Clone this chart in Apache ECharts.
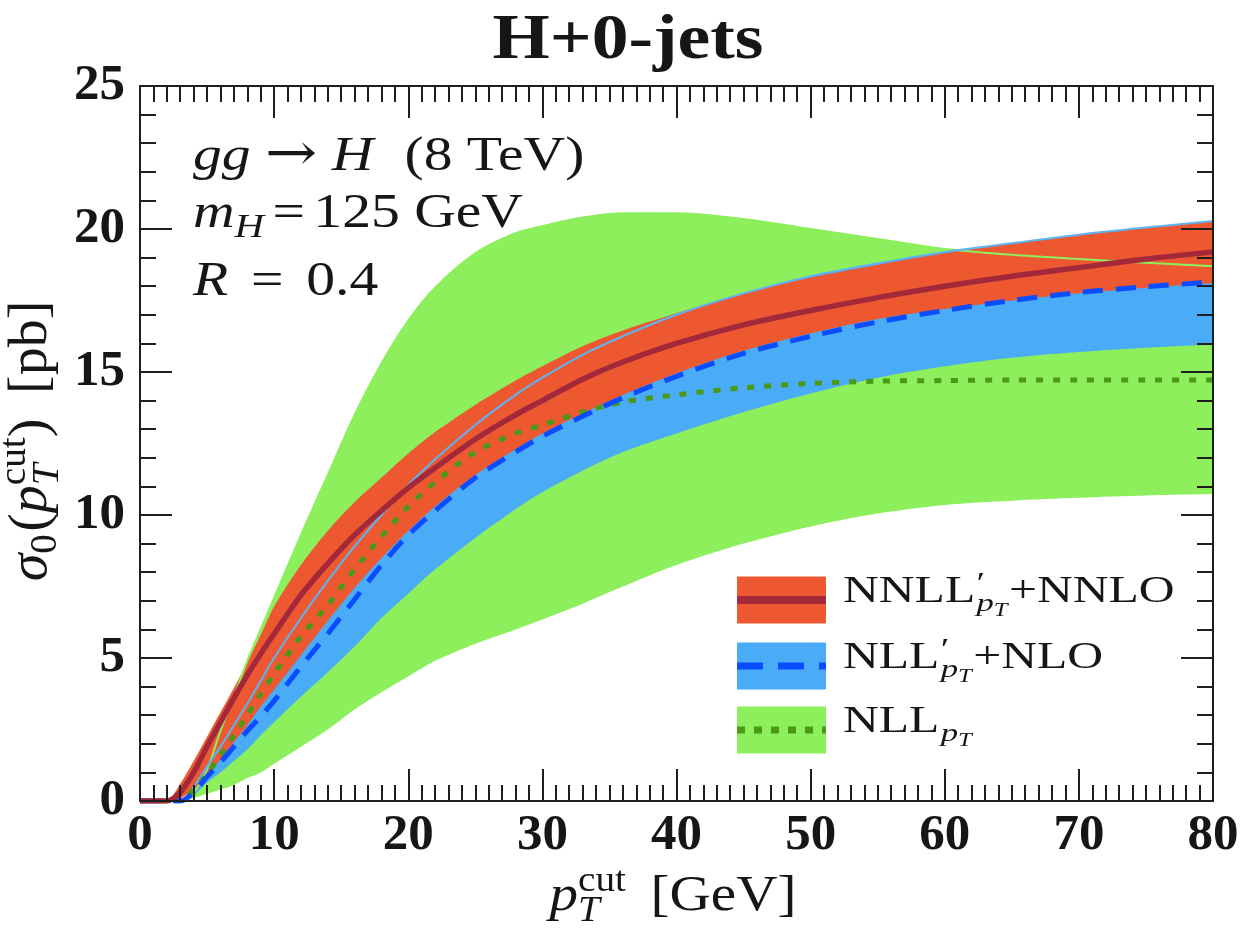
<!DOCTYPE html>
<html>
<head>
<meta charset="utf-8">
<script src="https://cdn.jsdelivr.net/npm/echarts@6/dist/echarts.min.js"></script>
<style>
  html, body { margin: 0; padding: 0; background: #ffffff; }
  #chart { width: 1240px; height: 929px; }
</style>
</head>
<body>
<div id="chart"></div>
<script>
// Jet-veto cut values (GeV) shared by every curve
const ptCut = [0, 2, 3, 4, 5, 6, 7, 8, 9, 10, 12, 14, 16, 18, 20, 22, 25, 28, 30, 33, 36, 40, 45, 50, 55, 60, 65, 70, 75, 80];

// NNLL'_pT + NNLO : central value and uncertainty band (pb)
const nnllCentral = [0, 0, 0.3, 1.0, 1.9, 2.75, 3.6, 4.4, 5.15, 5.85, 7.2, 8.3, 9.3, 10.15, 10.95, 11.65, 12.65, 13.5, 14.0, 14.75, 15.35, 16.0, 16.65, 17.15, 17.6, 18.0, 18.35, 18.65, 18.95, 19.2];
const nnllUpper   = [0, 0, 0.6, 1.4, 2.25, 3.1, 3.95, 4.85, 5.8, 6.8, 8.25, 9.45, 10.45, 11.3, 12.15, 12.9, 13.85, 14.7, 15.2, 15.9, 16.45, 17.05, 17.75, 18.3, 18.75, 19.15, 19.5, 19.8, 20.05, 20.3];
const nnllLower   = [0, 0, 0.1, 0.4, 0.9, 1.45, 2.05, 2.65, 3.3, 3.9, 5.1, 6.3, 7.45, 8.5, 9.45, 10.3, 11.4, 12.3, 12.85, 13.55, 14.2, 14.95, 15.75, 16.35, 16.85, 17.2, 17.5, 17.75, 17.95, 18.1];

// NLL'_pT + NLO
const nllpCentral = [0, 0, 0, 0.3, 0.85, 1.35, 1.9, 2.45, 2.95, 3.5, 4.7, 5.85, 7.05, 8.25, 9.3, 10.15, 11.3, 12.2, 12.75, 13.45, 14.1, 14.85, 15.65, 16.25, 16.75, 17.15, 17.5, 17.78, 17.98, 18.15];
const nllpUpper   = [0, 0, 0, 0.5, 1.2, 1.9, 2.65, 3.4, 4.2, 5.0, 6.4, 7.7, 8.9, 10.0, 11.05, 11.95, 13.15, 14.2, 14.8, 15.6, 16.25, 17.0, 17.75, 18.35, 18.8, 19.2, 19.5, 19.8, 20.05, 20.28];
const nllpLower   = [0, 0, 0, 0.2, 0.65, 1.0, 1.4, 1.8, 2.3, 2.75, 3.65, 4.5, 5.4, 6.4, 7.25, 8.1, 9.2, 10.2, 10.8, 11.55, 12.2, 12.85, 13.6, 14.25, 14.8, 15.2, 15.5, 15.7, 15.85, 15.95];

// NLL_pT
const nllCentral  = [0, 0, 0, 0.4, 0.95, 1.6, 2.3, 3.0, 3.75, 4.45, 5.75, 6.85, 8.1, 9.25, 10.3, 11.15, 12.2, 12.85, 13.15, 13.6, 13.95, 14.2, 14.45, 14.6, 14.68, 14.7, 14.72, 14.72, 14.72, 14.72];
const nllUpper    = [0, 0, 0, 0.3, 1.1, 2.45, 3.65, 4.9, 6.0, 7.1, 9.3, 11.4, 13.5, 15.3, 16.8, 17.95, 19.15, 19.85, 20.1, 20.4, 20.55, 20.55, 20.35, 20.0, 19.65, 19.3, 19.1, 18.95, 18.82, 18.7];
const nllLower    = [0, 0, 0, 0.1, 0.25, 0.4, 0.56, 0.8, 1.0, 1.3, 1.9, 2.5, 3.2, 3.8, 4.35, 4.9, 5.5, 6.0, 6.35, 6.9, 7.5, 8.25, 9.0, 9.6, 10.05, 10.35, 10.5, 10.6, 10.68, 10.73];

// Axis ranges and tick spacing
const xRange = [0, 80], xStep = 10;
const yRange = [0, 25], yStep = 5;

const COLORS = {
  nnllBand: '#ee5831', nnllLine: '#a3293a',
  nllpBand: '#4aabf7', nllpLine: '#0a4cff', nllpEdge: '#5eb3f3',
  nllBand:  '#8cef5b', nllLine:  '#4b9a17',
  ink: '#161616', axis: '#1e1e1e'
};
const SERIF = '"Liberation Serif", "DejaVu Serif", serif';

// ---------- text layout helper (runs along a shared baseline) ----------
const measureCtx = document.createElement('canvas').getContext('2d');
function fontOf(r) {
  return (r.italic ? 'italic ' : 'normal ') + (r.bold ? 'bold ' : 'normal ') + r.size + 'px ' + (r.family || SERIF);
}
// Returns a group whose origin sits on the baseline at (x0, baseline)
function textRow(runs, x0, baseline, anchor, base, opts) {
  opts = opts || {};
  let cursor = 0, lastStart = 0;
  const placed = runs.map(src => {
    const r = Object.assign({ size: base }, src);
    measureCtx.font = fontOf(r);
    const w = measureCtx.measureText(r.t).width;
    const start = r.stack ? lastStart : cursor + (r.kern || 0);
    lastStart = start;
    cursor = Math.max(cursor, start + w);
    return { r, start };
  });
  const shift = anchor === 'center' ? -cursor / 2 : anchor === 'right' ? -cursor : 0;
  return {
    type: 'group', silent: true, z: 30,
    x: x0, y: baseline,
    rotation: opts.rotation || 0,
    scaleX: opts.sx || 1, scaleY: opts.sy || 1,
    children: placed.map(({ r, start }) => ({
      type: 'text', silent: true, z: 30,
      x: shift + start,
      y: -(r.rise || 0) - 0.34 * r.size,
      style: {
        text: r.t, font: fontOf(r), fill: r.color || COLORS.ink,
        align: 'left', verticalAlign: 'middle', textAlign: 'left', textVerticalAlign: 'middle'
      }
    }))
  };
}

// ---------- smoothed band outline (same control-point rule as the line series) ----------
const SMOOTH = 0.3;
function bezierCmds(p) {
  const n = p.length, cpPrev = [], cpNext = [];
  for (let i = 0; i < n; i++) {
    if (i === 0 || i === n - 1) { cpPrev[i] = p[i]; cpNext[i] = p[i]; continue; }
    const vx = p[i + 1][0] - p[i - 1][0], vy = p[i + 1][1] - p[i - 1][1];
    const d0 = Math.hypot(p[i][0] - p[i - 1][0], p[i][1] - p[i - 1][1]);
    const d1 = Math.hypot(p[i + 1][0] - p[i][0], p[i + 1][1] - p[i][1]);
    const rn = d0 + d1 > 0 ? d1 / (d0 + d1) : 0.5;
    cpPrev[i] = [p[i][0] - vx * SMOOTH * (1 - rn), p[i][1] - vy * SMOOTH * (1 - rn)];
    cpNext[i] = [p[i][0] + vx * SMOOTH * rn, p[i][1] + vy * SMOOTH * rn];
  }
  let d = '';
  for (let i = 0; i < n - 1; i++) {
    d += ' C' + cpNext[i][0] + ' ' + cpNext[i][1] + ' ' + cpPrev[i + 1][0] + ' ' + cpPrev[i + 1][1] +
         ' ' + p[i + 1][0] + ' ' + p[i + 1][1];
  }
  return d;
}
function band(name, lower, upper, color) {
  return {
    type: 'custom', name, clip: true, silent: true, z: 2,
    data: ptCut.map((x, i) => [x, lower[i], upper[i]]),
    encode: { x: 0, y: [1, 2] },
    renderItem(params, api) {
      if (params.dataIndex !== 0) return null; // the whole band is one shape
      const up = ptCut.map((x, i) => api.coord([x, upper[i]]));
      const lo = ptCut.map((x, i) => api.coord([x, lower[i]])).reverse();
      const d = 'M' + up[0][0] + ' ' + up[0][1] + bezierCmds(up) +
                ' L' + lo[0][0] + ' ' + lo[0][1] + bezierCmds(lo) + ' Z';
      return { type: 'path', shape: { pathData: d }, style: { fill: color, stroke: null } };
    }
  };
}
const pairs = ys => ptCut.map((x, i) => [x, ys[i]]);
function curve(name, ys, lineStyle, z) {
  return { type: 'line', name, data: pairs(ys), smooth: SMOOTH, symbol: 'none', silent: true, lineStyle, z };
}

// ---------- axes (frame with inward ticks on all four sides) ----------
function axis(range, step, minorSplit, position, label) {
  return {
    type: 'value', min: range[0], max: range[1], interval: step, position, z: 10,
    axisLine: { show: true, onZero: false, lineStyle: { color: COLORS.axis, width: 2 } },
    axisTick: { show: true, inside: true, length: 32, lineStyle: { color: COLORS.axis, width: 2 } },
    minorTick: { show: true, splitNumber: minorSplit, length: 16, lineStyle: { color: COLORS.axis, width: 2 } },
    splitLine: { show: false }, minorSplitLine: { show: false },
    axisLabel: label ? Object.assign({ show: true, showMinLabel: true, showMaxLabel: true,
      fontFamily: SERIF, fontWeight: 'bold', fontSize: 51, color: COLORS.ink }, label) : { show: false }
  };
}
const xAxes = [axis(xRange, xStep, 10, 'bottom', { margin: 9 }), axis(xRange, xStep, 10, 'top', null)];
const yAxes = [axis(yRange, yStep, 5, 'left', { margin: 15 }), axis(yRange, yStep, 5, 'right', null)];

const series = [
  band('NLL_pT band', nllLower, nllUpper, COLORS.nllBand),
  band("NLL'_pT+NLO band", nllpLower, nllpUpper, COLORS.nllpBand),
  band("NNLL'_pT+NNLO band", nnllLower, nnllUpper, COLORS.nnllBand),
  curve('NLL_pT upper edge', nllUpper, { color: COLORS.nllBand, width: 2 }, 3),
  curve("NLL'_pT+NLO upper edge", nllpUpper, { color: COLORS.nllpEdge, width: 2 }, 3),
  curve('NLL_pT', nllCentral, { color: COLORS.nllLine, width: 5, type: [7, 10], cap: 'butt' }, 4),
  curve("NLL'_pT+NLO", nllpCentral, { color: COLORS.nllpLine, width: 5, type: [20, 13], cap: 'butt' }, 5),
  curve("NNLL'_pT+NNLO", nnllCentral, { color: COLORS.nnllLine, width: 5.5 }, 6)
];

// ---------- legend, annotations, title and axis titles ----------
const LS = 37; // legend label size
const legendRows = [
  { cy: 600, fill: COLORS.nnllBand, stroke: COLORS.nnllLine, width: 8, dash: null,
    label: [{ t: 'NNLL' }, { t: '\u2032', size: LS * 0.8, rise: LS * 0.3, kern: 1 },
            { t: 'p', italic: true, size: LS * 0.7, rise: -LS * 0.22, stack: true },
            { t: 'T', italic: true, size: LS * 0.5, rise: -LS * 0.34 }, { t: '+NNLO', kern: 1 }] },
  { cy: 666, fill: COLORS.nllpBand, stroke: COLORS.nllpLine, width: 7, dash: [26, 15],
    label: [{ t: 'NLL' }, { t: '\u2032', size: LS * 0.8, rise: LS * 0.3, kern: 1 },
            { t: 'p', italic: true, size: LS * 0.7, rise: -LS * 0.22, stack: true },
            { t: 'T', italic: true, size: LS * 0.5, rise: -LS * 0.34 }, { t: '+NLO', kern: 1 }] },
  { cy: 730, fill: COLORS.nllBand, stroke: COLORS.nllLine, width: 7, dash: [8, 9],
    label: [{ t: 'NLL' }, { t: 'p', italic: true, size: LS * 0.7, rise: -LS * 0.22, kern: 1 },
            { t: 'T', italic: true, size: LS * 0.5, rise: -LS * 0.34 }] }
];
const legendBox = { x: 737, w: 89, h: 47, textX: 843 };

const graphics = [];
legendRows.forEach(row => {
  graphics.push({ type: 'rect', silent: true, z: 20,
    shape: { x: legendBox.x, y: row.cy - legendBox.h / 2, width: legendBox.w, height: legendBox.h },
    style: { fill: row.fill } });
  graphics.push({ type: 'line', silent: true, z: 21,
    shape: { x1: legendBox.x, y1: row.cy, x2: legendBox.x + legendBox.w, y2: row.cy },
    style: { stroke: row.stroke, lineWidth: row.width, lineDash: row.dash, lineCap: 'butt' } });
  graphics.push(textRow(row.label, legendBox.textX, row.cy + 5, 'left', LS, { sx: 1.34 }));
});

const AS = 48; // annotation size
const ARROW_FONT = '"DejaVu Serif", "DejaVu Sans", serif';
graphics.push(textRow([{ t: 'gg', italic: true }, { t: '\u2192', kern: 12, family: ARROW_FONT, size: 52 },
                       { t: 'H', italic: true, kern: 12 }, { t: '(8 TeV)', kern: 26 }], 193, 174, 'left', AS, { sx: 1.2 }));
graphics.push(textRow([{ t: 'm', italic: true }, { t: 'H', italic: true, size: 34, rise: -9 },
                       { t: '=', kern: 7 }, { t: '125', kern: 7 }, { t: 'GeV', kern: 12 }], 193, 231, 'left', AS, { sx: 1.2 }));
graphics.push(textRow([{ t: 'R', italic: true }, { t: '=', kern: 19 }, { t: '0.4', kern: 19 }], 193, 299, 'left', AS, { sx: 1.2 }));

// title
graphics.push(textRow([{ t: 'H+0-jets', bold: true }], 628, 63, 'center', 64, { sx: 1.15 }));

// x-axis title
graphics.push(textRow([{ t: 'p', italic: true }, { t: 'cut', size: 35, rise: 20 },
                       { t: 'T', italic: true, size: 35, rise: -10, stack: true },
                       { t: '[GeV]', kern: 22 }], 673, 914, 'center', 51, { sx: 1.12 }));

// y-axis title, rotated to read upward
graphics.push(textRow([{ t: '\u03c3', italic: true }, { t: '0', size: 35, rise: -8 },
                       { t: '(', kern: 2 }, { t: 'p', italic: true }, { t: 'cut', size: 35, rise: 20 },
                       { t: 'T', italic: true, size: 35, rise: -10, stack: true },
                       { t: ')' }, { t: '[pb]', kern: 22 }], 50, 441, 'center', 50,
                      { rotation: Math.PI / 2, sx: 1.12, sy: 1.1 }));

const chart = echarts.init(document.getElementById('chart'), null, { renderer: 'canvas' });
chart.setOption({
  animation: false,
  backgroundColor: '#ffffff',
  grid: { left: 140, right: 27, top: 86, bottom: 128, containLabel: false, outerBoundsMode: 'none' },
  xAxis: xAxes,
  yAxis: yAxes,
  series: series.map(s => Object.assign({ xAxisIndex: 0, yAxisIndex: 0 }, s)),
  graphic: { elements: graphics }
});
</script>
</body>
</html>
